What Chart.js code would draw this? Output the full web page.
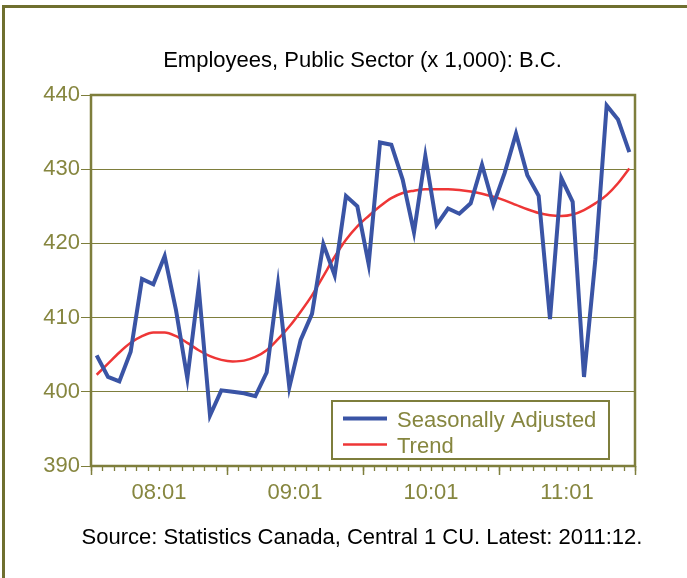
<!DOCTYPE html>
<html>
<head>
<meta charset="utf-8">
<title>Employees, Public Sector (x 1,000): B.C.</title>
<script src="https://cdn.jsdelivr.net/npm/chart.js@4.4.1/dist/chart.umd.min.js"></script>
<style>
    body { margin: 0; background: #fff; }
    canvas { display: block; }
</style>
</head>
<body>
<canvas id="myChart" width="687" height="578"></canvas>
<script>
// monthly, 2008:01 .. 2011:12
var months = [
    '08:01', '08:02', '08:03', '08:04', '08:05', '08:06', '08:07', '08:08', '08:09', '08:10', '08:11', '08:12',
    '09:01', '09:02', '09:03', '09:04', '09:05', '09:06', '09:07', '09:08', '09:09', '09:10', '09:11', '09:12',
    '10:01', '10:02', '10:03', '10:04', '10:05', '10:06', '10:07', '10:08', '10:09', '10:10', '10:11', '10:12',
    '11:01', '11:02', '11:03', '11:04', '11:05', '11:06', '11:07', '11:08', '11:09', '11:10', '11:11', '11:12'
];
var seasonallyAdjusted = [
    404.9, 402.0, 401.4, 405.4, 415.2, 414.5, 418.3, 411.0, 401.8, 414.1, 396.8, 400.2,
    400.0, 399.8, 399.4, 402.6, 414.5, 400.6, 407.0, 410.5, 419.9, 415.7, 426.4, 425.0,
    417.2, 433.6, 433.3, 428.6, 421.5, 431.8, 422.5, 424.7, 424.0, 425.4, 430.6, 425.2,
    429.5, 434.8, 429.2, 426.4, 409.8, 428.8, 425.6, 402.0, 417.8, 438.6, 436.7, 432.3
];
var trend = [
    402.3, 403.8, 405.3, 406.6, 407.5, 408.0, 408.0, 407.5, 406.6, 405.6, 404.8, 404.3,
    404.1, 404.2, 404.7, 405.6, 407.1, 408.8, 410.8, 413.0, 415.6, 418.2, 420.5, 422.3,
    423.7, 425.0, 426.1, 426.8, 427.1, 427.3, 427.3, 427.3, 427.2, 427.0, 426.7, 426.3,
    425.8, 425.2, 424.6, 424.1, 423.8, 423.7, 423.9, 424.5, 425.4, 426.5, 428.1, 430.1
];
var tickLabels = ['08:01', '09:01', '10:01', '11:01'];
var yMin = 390, yMax = 440, yStep = 10;

var titleText = 'Employees, Public Sector (x 1,000): B.C.';
var sourceText = 'Source: Statistics Canada, Central 1 CU. Latest: 2011:12.';

var olive = '#7e7e3c';
var oliveText = '#86863f';

function toPoints(arr) {
    var pts = [];
    for (var i = 0; i < arr.length; i++) {
        pts.push({x: i, y: arr[i]});
    }
    return pts;
}

// draws outer frame, plot box, minor x ticks, legend and the two text lines
var decor = {
    id: 'decor',
    beforeDraw: function(chart) {
        var ctx = chart.ctx;
        ctx.save();
        ctx.fillStyle = '#fff';
        ctx.fillRect(0, 0, chart.width, chart.height);
        ctx.strokeStyle = '#6f6f2f';
        ctx.lineWidth = 3;
        ctx.beginPath();
        ctx.moveTo(3.5, chart.height);
        ctx.lineTo(3.5, 6.5);
        ctx.lineTo(chart.width, 6.5);
        ctx.stroke();
        ctx.restore();
    },
    afterDraw: function(chart) {
        var ctx = chart.ctx;
        var a = chart.chartArea;
        var xs = chart.scales.x;
        ctx.save();

        // minor tick marks
        ctx.strokeStyle = olive;
        ctx.lineWidth = 1.3;
        for (var k = 0; k <= months.length; k++) {
            var px = Math.round(xs.getPixelForValue(k - 0.5)) + 0.5;
            ctx.beginPath();
            ctx.moveTo(px, a.bottom);
            ctx.lineTo(px, a.bottom + 5);
            ctx.stroke();
        }

        // plot frame
        ctx.lineWidth = 2.5;
        ctx.strokeRect(a.left, a.top, a.right - a.left, a.bottom - a.top);

        // legend box
        var lx = a.left + 241, ly = a.bottom - 65;
        var lw = 277, lh = 58;
        ctx.fillStyle = '#fff';
        ctx.fillRect(lx, ly, lw, lh);
        ctx.lineWidth = 2;
        ctx.strokeRect(lx, ly, lw, lh);
        var ds = chart.data.datasets;
        ctx.font = '22px "Liberation Sans", Arial, sans-serif';
        ctx.textBaseline = 'alphabetic';
        ctx.textAlign = 'left';
        for (var d = 0; d < ds.length; d++) {
            var ry = ly + 17.5 + d * 26;
            ctx.strokeStyle = ds[d].borderColor;
            ctx.lineWidth = d === 0 ? 4 : 2.5;
            ctx.beginPath();
            ctx.moveTo(lx + 11, ry);
            ctx.lineTo(lx + 55, ry);
            ctx.stroke();
            ctx.fillStyle = oliveText;
            ctx.fillText(ds[d].label, lx + 65, ry + 8);
        }

        // title and source
        ctx.fillStyle = '#000';
        ctx.textAlign = 'center';
        ctx.font = '22px "Liberation Sans", Arial, sans-serif';
        ctx.fillText(titleText, 362.5, 67);
        ctx.fillText(sourceText, 362, 544);

        ctx.restore();
    }
};

var ctx = document.getElementById('myChart');

var employeesChart = new Chart(ctx, {
    type: 'line',
    data: {
        datasets: [{
            label: 'Seasonally Adjusted',
            data: toPoints(seasonallyAdjusted),
            borderColor: '#3a54a5',
            borderWidth: 4,
            pointRadius: 0,
            tension: 0,
            fill: false
        }, {
            label: 'Trend',
            data: toPoints(trend),
            borderColor: '#ee3636',
            borderWidth: 2.5,
            pointRadius: 0,
            cubicInterpolationMode: 'monotone',
            fill: false
        }]
    },
    options: {
        responsive: false,
        animation: false,
        layout: {
            padding: {top: 95, left: 0, right: 52, bottom: 0}
        },
        plugins: {
            legend: {display: false},
            title: {display: false},
            tooltip: {enabled: false}
        },
        scales: {
            x: {
                type: 'linear',
                min: -0.5,
                max: months.length - 0.5,
                afterBuildTicks: function(axis) {
                    var t = [];
                    for (var k = 0; k <= months.length; k++) {
                        t.push({value: k - 0.5});
                    }
                    axis.ticks = t;
                },
                afterFit: function(axis) {
                    axis.height = 112;
                },
                border: {display: false},
                grid: {
                    drawOnChartArea: false,
                    drawTicks: true,
                    tickLength: 9,
                    tickWidth: 1.5,
                    tickColor: function(c) {
                        if (!c.tick) return 'rgba(0,0,0,0)';
                        var k = Math.round(c.tick.value + 0.5);
                        return k % 12 === 0 ? olive : 'rgba(0,0,0,0)';
                    }
                },
                ticks: {
                    autoSkip: false,
                    maxRotation: 0,
                    padding: 5,
                    color: oliveText,
                    font: {family: '"Liberation Sans", Arial, sans-serif', size: 22},
                    callback: function(value) {
                        var k = Math.round(value + 0.5);
                        if ((k - 6) % 12 === 0 && k >= 6) {
                            return tickLabels[(k - 6) / 12] || '';
                        }
                        return '';
                    }
                }
            },
            y: {
                min: yMin,
                max: yMax,
                afterFit: function(axis) {
                    axis.width = 91;
                },
                border: {display: false},
                grid: {
                    color: olive,
                    lineWidth: 1,
                    drawTicks: true,
                    tickLength: 10
                },
                ticks: {
                    stepSize: yStep,
                    padding: 1,
                    color: oliveText,
                    font: {family: '"Liberation Sans", Arial, sans-serif', size: 22}
                }
            }
        }
    },
    plugins: [decor]
});
</script>
</body>
</html>
